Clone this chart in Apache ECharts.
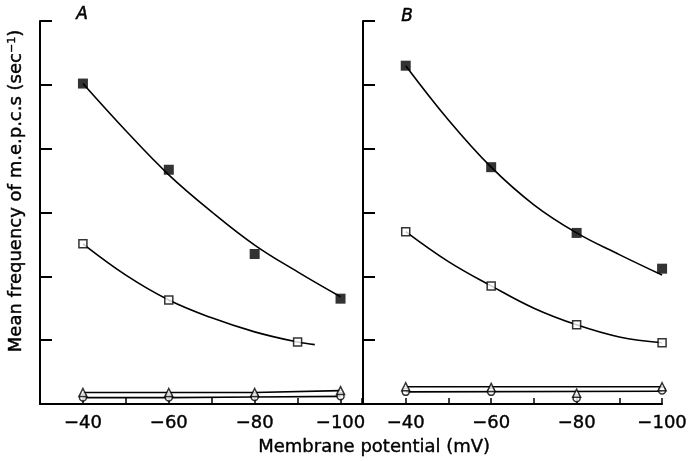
<!DOCTYPE html>
<html>
<head>
<meta charset="utf-8">
<script src="https://cdn.jsdelivr.net/npm/echarts@6/dist/echarts.min.js"></script>
<style>
  html, body { margin: 0; padding: 0; background: #fff; }
  #chart { width: 690px; height: 461px; }
</style>
</head>
<body>
<div id="chart"></div>
<script>
// x values in mV
var volts = [-40, -60, -80, -100];
var fitVolts = [-40, -50, -60, -70, -80, -90, -100];

// panel A
var filledA = [5.02, 3.67, 2.35, 1.65];
var openVoltsA = [-40, -60, -90];
var openA = [2.51, 1.63, 0.97];
var triA = [0.18, 0.18, 0.18, 0.21];
var circA = [0.10, 0.10, 0.11, 0.12];
var fitFilledA = [5.02, 4.28, 3.59, 3.01, 2.49, 2.07, 1.68];
var fitOpenVoltsA = [-40, -50, -60, -70, -80, -90, -94];
var fitOpenA = [2.51, 2.02, 1.63, 1.35, 1.13, 0.97, 0.93];

// panel B
var filledB = [5.30, 3.71, 2.68, 2.12];
var openB = [2.70, 1.85, 1.24, 0.96];
var triB = [0.27, 0.26, 0.17, 0.27];
var circB = [0.19, 0.19, 0.09, 0.21];
var fitFilledB = [5.30, 4.45, 3.71, 3.12, 2.68, 2.34, 2.02];
var fitOpenB = [2.70, 2.23, 1.85, 1.50, 1.24, 1.05, 0.96];
var triFitVoltsB = [-40, -100];
var triFitB = [0.27, 0.27];
var circFitB = [0.19, 0.20];

var tickLabels = [-40, -60, -80, -100];

// the axis runs on the size of the hyperpolarisation (left = -30 mV)
function pairs(xs, ys) {
    return xs.map(function (x, i) { return [-x, ys[i]]; });
}

var font = '"DejaVu Sans", sans-serif';

function xAxisFor(idx, max) {
    return {
        gridIndex: idx,
        type: 'value',
        min: 30,
        max: max,
        interval: 10,
        axisLine: { lineStyle: { color: '#000', width: 2 } },
        axisTick: { inside: true, length: 6, lineStyle: { color: '#000', width: 1.5 } },
        splitLine: { show: false },
        axisLabel: {
            color: '#000',
            fontSize: 18,
            fontFamily: font,
            textBorderColor: '#000',
            textBorderWidth: 0.4,
            margin: 10,
            formatter: function (v) {
                return tickLabels.indexOf(-v) >= 0 ? '\u2212' + v : '';
            }
        }
    };
}

function yAxisFor(idx) {
    return {
        gridIndex: idx,
        type: 'value',
        min: 0,
        max: 6,
        interval: 1,
        axisLine: { show: true, lineStyle: { color: '#000', width: 2 } },
        axisTick: { show: true, inside: true, length: 12, lineStyle: { color: '#000', width: 2 } },
        axisLabel: { show: false },
        splitLine: { show: false }
    };
}

function points(idx, data, symbol, size, filled) {
    return {
        type: 'scatter',
        xAxisIndex: idx,
        yAxisIndex: idx,
        symbol: symbol,
        symbolSize: size,
        data: data,
        z: 5,
        itemStyle: {
            color: filled ? '#000' : '#fff',
            borderColor: '#000',
            borderWidth: filled ? 0 : 1.5
        }
    };
}

function curve(idx, data, smooth) {
    return {
        type: 'line',
        xAxisIndex: idx,
        yAxisIndex: idx,
        data: data,
        smooth: smooth,
        showSymbol: false,
        lineStyle: { color: '#000', width: 1.6 },
        z: 3
    };
}

var chart = echarts.init(document.getElementById('chart'), null, { renderer: 'canvas' });

chart.setOption({
    animation: false,
    backgroundColor: '#fff',
    grid: [
        { left: 40, right: 328, top: 21, bottom: 57 },
        { left: 363, right: 24, top: 21, bottom: 57 }
    ],
    xAxis: [xAxisFor(0, 105), xAxisFor(1, 100)],
    yAxis: [yAxisFor(0), yAxisFor(1)],
    graphic: [
        {
            type: 'text', left: 76, top: 6,
            style: { text: 'A', font: 'italic 17px ' + font, fill: '#000', stroke: '#000', lineWidth: 0.5 }
        },
        {
            type: 'text', left: 401, top: 8,
            style: { text: 'B', font: 'italic 17px ' + font, fill: '#000', stroke: '#000', lineWidth: 0.5 }
        },
        {
            type: 'text', left: 258, top: 438,
            style: { text: 'Membrane potential (mV)', font: '18px ' + font, fill: '#000', stroke: '#000', lineWidth: 0.4 }
        },
        {
            type: 'text', x: 7, y: 191, rotation: Math.PI / 2,
            style: {
                text: 'Mean frequency of m.e.p.c.s (sec{sup|\u22121})',
                font: '18px ' + font,
                fill: '#000',
                stroke: '#000',
                lineWidth: 0.4,
                align: 'center',
                verticalAlign: 'top',
                rich: {
                    sup: { fontSize: 11, fontFamily: font, verticalAlign: 'top', padding: [0, 0, 6, 0] }
                }
            }
        }
    ],
    series: [
        curve(0, pairs(fitVolts, fitFilledA), 0.4),
        curve(0, pairs(fitOpenVoltsA, fitOpenA), 0.4),
        curve(0, pairs(volts, triA), false),
        curve(0, pairs(volts, circA), false),
        points(0, pairs(volts, filledA), 'rect', 10, true),
        points(0, pairs(openVoltsA, openA), 'rect', 8, false),
        points(0, pairs(volts, circA), 'circle', 7, false),
        points(0, pairs(volts, triA), 'triangle', 8, false),

        curve(1, pairs(fitVolts, fitFilledB), 0.4),
        curve(1, pairs(fitVolts, fitOpenB), 0.4),
        curve(1, pairs(triFitVoltsB, triFitB), false),
        curve(1, pairs(triFitVoltsB, circFitB), false),
        points(1, pairs(volts, filledB), 'rect', 10, true),
        points(1, pairs(volts, openB), 'rect', 8, false),
        points(1, pairs(volts, circB), 'circle', 7, false),
        points(1, pairs(volts, triB), 'triangle', 8, false)
    ]
});
</script>
</body>
</html>
